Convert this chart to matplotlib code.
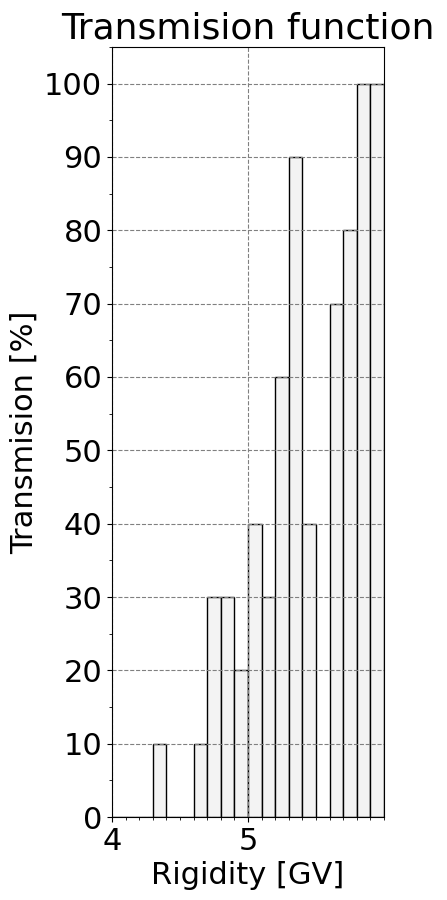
import numpy as np
import matplotlib
matplotlib.use("Agg")
import matplotlib.pyplot as plt
from matplotlib.ticker import MultipleLocator

# =====================================
# DATA
# =====================================

bin_edges = [4.0, 4.1, 4.2, 4.3, 4.4, 4.5, 4.6, 4.7, 4.8, 4.9, 5.0,
             5.1, 5.2, 5.3, 5.4, 5.5, 5.6, 5.7, 5.8, 5.9, 6.0]
transmission = [0, 0, 0, 10, 0, 0, 10, 30, 30, 20,
                40, 30, 60, 90, 40, 0, 70, 80, 100, 100]

# =====================================
# PLOT
# =====================================

fig = plt.figure(figsize=(4.47, 9), dpi=100)
ax = fig.add_axes([0.2506, 0.0922, 0.6085, 0.8556])

left = np.array(bin_edges[:-1])
width = np.diff(bin_edges)
ax.bar(left, transmission, width=width, align="edge",
       color="#f3f3f3", edgecolor="black", linewidth=1.0)

ax.set_xlim(4, 6)
ax.set_ylim(0, 105)
ax.set_xticks([4, 5])
ax.xaxis.set_minor_locator(MultipleLocator(0.1))
ax.yaxis.set_major_locator(MultipleLocator(10))
ax.yaxis.set_minor_locator(MultipleLocator(5))

ax.set_axisbelow(False)
ax.grid(True, which="major", linestyle="--", color="gray", linewidth=0.8)
for sp in ax.spines.values():
    sp.set_zorder(5)

ax.tick_params(axis="both", which="major", labelsize=22)

ax.set_xlabel("Rigidity [GV]", fontsize=22)
ax.set_ylabel("Transmision [%]", fontsize=22)
ax.set_title("Transmision function", fontsize=26)

fig.savefig("out.png", dpi=100)
